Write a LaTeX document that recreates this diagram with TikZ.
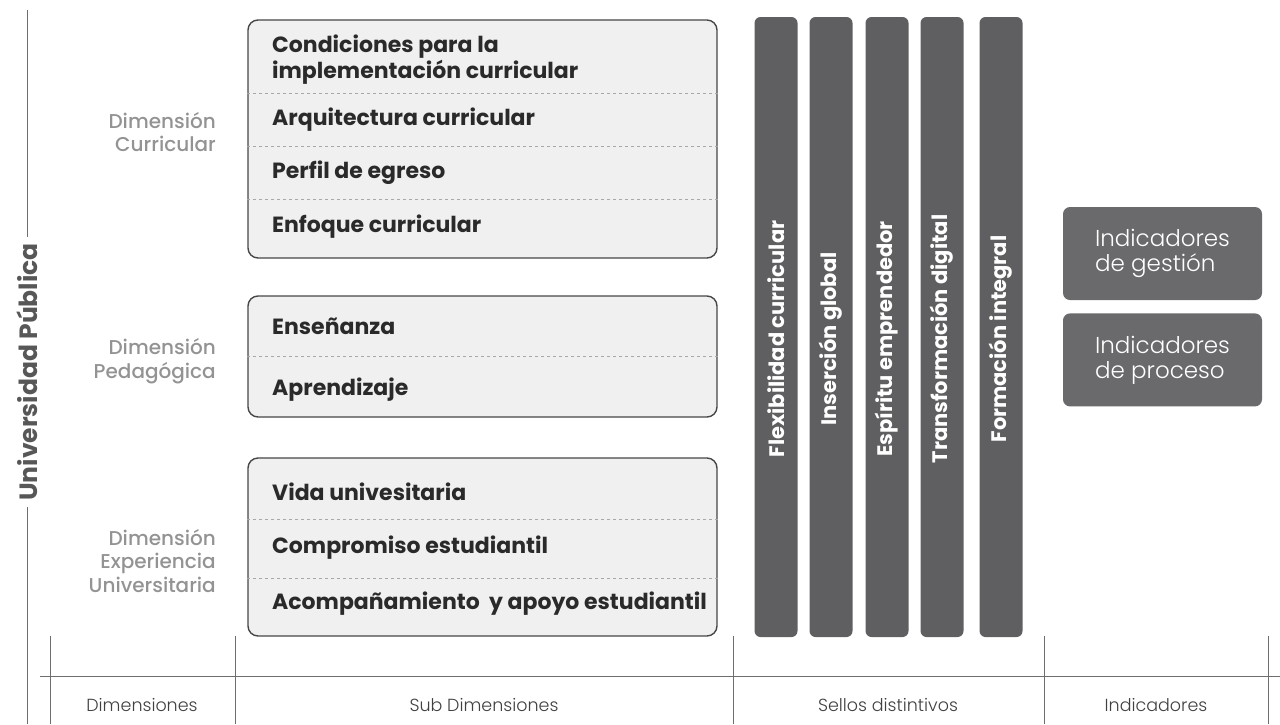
\documentclass[tikz,border=0pt]{standalone}
\usepackage{fontspec}
\setmainfont{Poppins}
\newfontfamily\poplight{Poppins Light}
\newfontfamily\popmed{Poppins Medium}
\newfontfamily\popbold{Poppins Bold}
\usetikzlibrary{positioning}

\definecolor{linegray}{HTML}{6E6E6E}
\definecolor{boxline}{HTML}{474747}
\definecolor{boxfill}{HTML}{F0F0F0}
\definecolor{sepgray}{HTML}{A8A8A8}
\definecolor{itemtext}{HTML}{2A2A2A}
\definecolor{dimgray}{HTML}{939393}
\definecolor{titlegray}{HTML}{575757}
\definecolor{bargray}{HTML}{5F5F61}
\definecolor{indgray}{HTML}{6A6A6C}
\definecolor{foottext}{HTML}{404040}

\begin{document}
\begin{tikzpicture}[
x=1pt, y=-1pt,
line/.style={draw=linegray,line width=1pt},
sub/.style={draw=boxline,line width=1.4pt,fill=boxfill,rounded corners=10pt,minimum width=469pt,inner sep=0},
sep/.style={draw=sepgray,dashed,line width=0.8pt},
item/.style={anchor=west,align=left,inner sep=0,text=itemtext,font=\popbold\fontsize{22}{26}\selectfont},
dim/.style={anchor=east,align=right,inner sep=0,text=dimgray,font=\popmed\fontsize{20}{23.5}\selectfont},
title/.style={rotate=90,inner sep=6pt,text=titlegray,font=\popbold\fontsize{25}{28}\selectfont},
bar/.style={fill=bargray,rounded corners=6pt,minimum width=43pt,minimum height=620pt,inner sep=0},
bartext/.style={rotate=90,inner sep=0,text=white,font=\popbold\fontsize{21}{24}\selectfont},
ind/.style={fill=indgray,rounded corners=7pt,minimum width=199pt,minimum height=93pt,align=left,text=white,font=\poplight\fontsize{23}{25}\selectfont},
foot/.style={text=foottext,font=\poplight\fontsize{17.5}{20}\selectfont}
]
\useasboundingbox (0,0) rectangle (1280,724);

%left title
\node[title] (up) at (27,372) {Universidad Pública};
\coordinate (uptop) at (27,10);
\coordinate (upbot) at (27,724);
\path[line] (uptop) -- (up.east);
\path[line] (up.west) -- (upbot);

%dimensions
\node[dim] (dcur) at (216,132) {Dimensión\\Curricular};
\node[dim] (dped) at (216,361) {Dimensión\\Pedagógica};
\node[dim] (dexp) at (216,561) {Dimensión\\Experiencia\\Universitaria};

%sub dimensions
\node[sub,minimum height=238pt] (sub1) at (482.5,139) {};
	\path[sep] (sub1.west |- 0,93) -- (sub1.east |- 0,93);
	\path[sep] (sub1.west |- 0,146) -- (sub1.east |- 0,146);
	\path[sep] (sub1.west |- 0,199) -- (sub1.east |- 0,199);
	\node[item] (s11) at (272,60) {Condiciones para la\\implementación curricular};
	\node[item] (s12) at (272,120) {Arquitectura curricular};
	\node[item] (s13) at (272,173) {Perfil de egreso};
	\node[item] (s14) at (272,227) {Enfoque curricular};

\node[sub,minimum height=121pt] (sub2) at (482.5,356.5) {};
	\path[sep] (sub2.west) -- (sub2.east);
	\node[item] (s21) at (272,326) {Enseñanza};
	\node[item] (s22) at (272,390) {Aprendizaje};

\node[sub,minimum height=178pt] (sub3) at (482.5,547) {};
	\path[sep] (sub3.west |- 0,519) -- (sub3.east |- 0,519);
	\path[sep] (sub3.west |- 0,578) -- (sub3.east |- 0,578);
	\node[item] (s31) at (272,492) {Vida univesitaria};
	\node[item] (s32) at (272,548) {Compromiso estudiantil};
	\node[item] (s33) at (272,604) {Acompañamiento\ \ y apoyo estudiantil};

%sellos
\node[bar] (se1) at (776,327) {};
\node[bar] (se2) at (831,327) {};
\node[bar] (se3) at (887,327) {};
\node[bar] (se4) at (942,327) {};
\node[bar] (se5) at (1001,327) {};
\node[bartext] (t1) at (776,339) {Flexibilidad curricular};
\node[bartext] (t2) at (831,339) {Inserción global};
\node[bartext] (t3) at (887,339) {Espíritu emprendedor};
\node[bartext] (t4) at (942,339) {Transformación digital};
\node[bartext] (t5) at (1001,339) {Formación integral};

%indicadores
\node[ind] (ig) at (1162.5,253.5) {Indicadores\\de gestión};
\node[ind] (ip) [below=13pt of ig] {Indicadores\\de proceso};

%footer
\coordinate (fl) at (40,676);
\coordinate (fr) at (1280,676);
\path[line] (fl) -- (fr);
\foreach \x in {50,235,733,1044,1268}
	\path[line] (\x,636) -- (\x,724);
\node[foot] (f1) at (142,705) {Dimensiones};
\node[foot] (f2) at (484,705) {Sub Dimensiones};
\node[foot] (f3) at (888,705) {Sellos distintivos};
\node[foot] (f4) at (1156,705) {Indicadores};

\end{tikzpicture}
\end{document}
